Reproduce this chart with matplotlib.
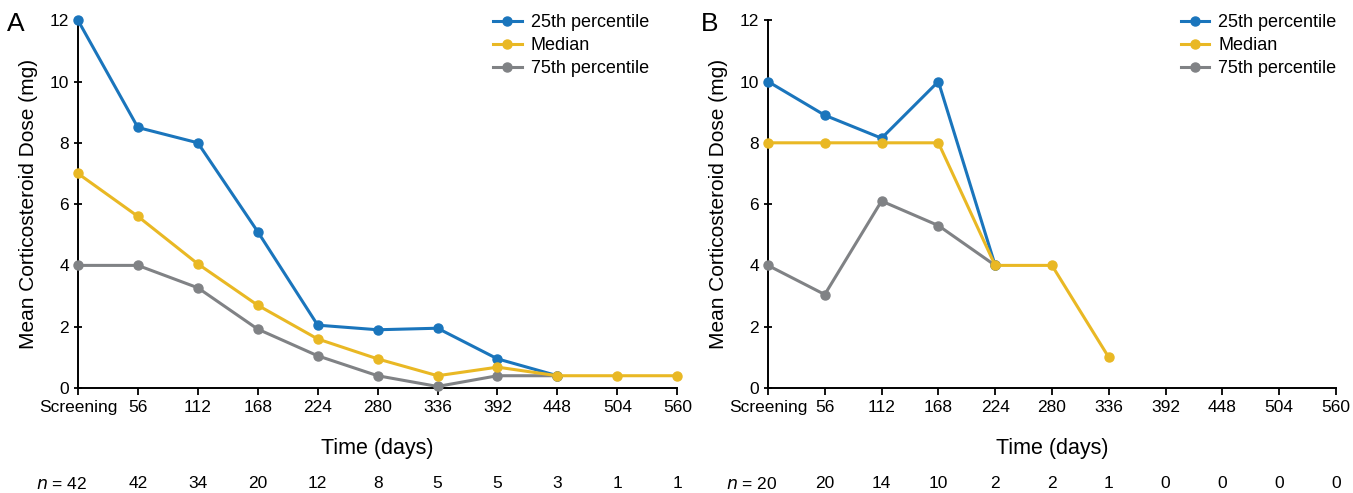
import matplotlib
matplotlib.use("Agg")
import matplotlib.pyplot as plt

plt.rcParams['font.family'] = ['Liberation Sans', 'DejaVu Sans']

tick_labels = ["Screening", "56", "112", "168", "224", "280", "336", "392", "448", "504", "560"]

# panel A
a_p25 = [12, 8.5, 8.0, 5.1, 2.05, 1.9, 1.95, 0.95, 0.4]
a_median = [7.0, 5.6, 4.05, 2.7, 1.6, 0.95, 0.4, 0.68, 0.4, 0.4, 0.4]
a_p75 = [4.0, 4.0, 3.27, 1.92, 1.05, 0.4, 0.05, 0.4, 0.4]
a_n = [42, 42, 34, 20, 12, 8, 5, 5, 3, 1, 1]

# panel B
b_p25 = [10, 8.9, 8.15, 10, 4.0]
b_median = [8, 8, 8, 8, 4, 4, 1.0]
b_p75 = [4.0, 3.05, 6.1, 5.3, 4.0]
b_n = [20, 20, 14, 10, 2, 2, 1, 0, 0, 0, 0]

blue = '#1a75bc'
yellow = '#e9b824'
gray = '#808285'

fig = plt.figure(figsize=(13.53, 4.93), dpi=100)
axA = fig.add_axes([0.0576, 0.213, 0.443, 0.746])
axB = fig.add_axes([0.5676, 0.213, 0.4198, 0.746])


def draw(ax, p25, med, p75, ns, letter, leg_x):
    kw = dict(marker='o', markersize=6.5, linewidth=2.2, clip_on=False)
    l75, = ax.plot(range(len(p75)), p75, color=gray, zorder=3, **kw)
    l25, = ax.plot(range(len(p25)), p25, color=blue, zorder=4, **kw)
    lmed, = ax.plot(range(len(med)), med, color=yellow, zorder=5, **kw)

    ax.set_xlim(0, 10)
    ax.set_ylim(0, 12)
    ax.set_xticks(range(len(tick_labels)))
    ax.set_xticklabels(tick_labels, fontsize=12.5)
    ax.set_yticks(range(0, 13, 2))
    ax.tick_params(axis='y', labelsize=12.5, direction='inout', length=6, width=1.3)
    ax.tick_params(axis='x', direction='out', length=5, width=1.3, pad=4)
    for s in ['top', 'right']:
        ax.spines[s].set_visible(False)
    for s in ['left', 'bottom']:
        ax.spines[s].set_linewidth(1.4)

    ax.set_ylabel("Mean Corticosteroid Dose (mg)", fontsize=15, labelpad=8)
    ax.set_xlabel("Time (days)", fontsize=15.5, labelpad=16)

    ax.legend([l25, lmed, l75], ["25th percentile", "Median", "75th percentile"],
              loc='upper right', bbox_to_anchor=(leg_x, 1.06), frameon=False,
              fontsize=13, handlelength=1.6, handletextpad=0.5, labelspacing=0.32)

    ax.text(-0.118, 0.99, letter, transform=ax.transAxes, fontsize=19,
            ha='left', va='center')

    trans = ax.get_xaxis_transform()
    for i, n in enumerate(ns):
        if i == 0:
            ax.text(i + 0.16, -0.26, f"$\\it{{n}}$ = {n}", transform=trans,
                    ha='right', va='center', fontsize=12.5)
        else:
            ax.text(i, -0.26, str(n), transform=trans,
                    ha='center', va='center', fontsize=12.5)


draw(axA, a_p25, a_median, a_p75, a_n, "A", 0.98)
draw(axB, b_p25, b_median, b_p75, b_n, "B", 1.03)

fig.savefig("out.png", dpi=100)
